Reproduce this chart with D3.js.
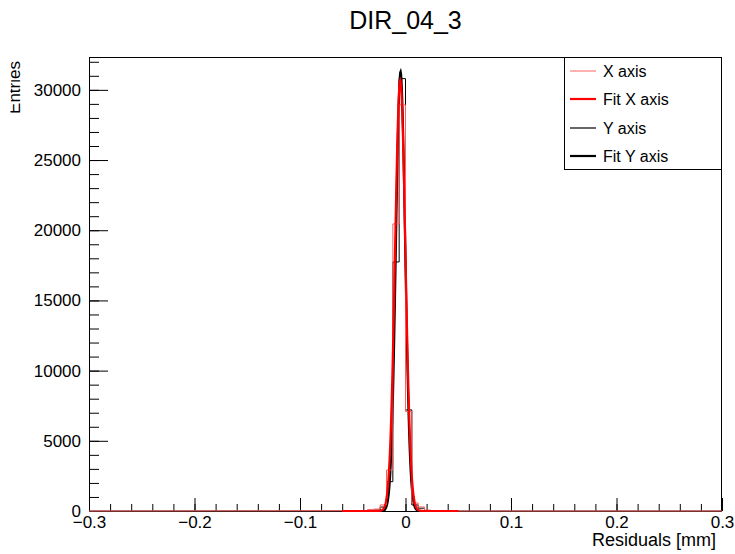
<!DOCTYPE html>
<html>
<head>
<meta charset="utf-8">
<script src="https://cdn.jsdelivr.net/npm/d3@7"></script>
<style>
  html, body { margin: 0; padding: 0; background: #fff; }
  svg { display: block; font-family: "Liberation Sans", Arial, Helvetica, sans-serif; }
</style>
</head>
<body>
<svg id="chart" width="735" height="554"></svg>
<script>
// ---- data ----
const title = "DIR_04_3";
const xTitle = "Residuals [mm]";
const yTitle = "Entries";
const xRange = [-0.3, 0.3];
const binWidth = 0.006;
// low edges of the non-empty bins (all other bins are empty)
const binLowEdges = [-0.042, -0.036, -0.030, -0.024, -0.018, -0.012, -0.006, 0.000, 0.006, 0.012, 0.018, 0.024, 0.030];
const xAxisCounts = [20, 110, 140, 430, 2920, 20450, 28930, 7080, 570, 290, 60, 20, 0];
const yAxisCounts = [10, 30, 70, 280, 2090, 17740, 30800, 7200, 430, 200, 40, 10, 0];
// Gaussian fit parameters [constant, mean, sigma]
const fitXParams = [30700, -0.0050, 0.0049];
const fitYParams = [31300, -0.0047, 0.0044];
const fitRange = [-0.06, 0.05];
const xMajorTicks = [-0.3, -0.2, -0.1, 0, 0.1, 0.2, 0.3];
const xMinorTicks = d3.range(-30, 31, 2).map(v => v / 100);
const yMajorTicks = [0, 5000, 10000, 15000, 20000, 25000, 30000];
const yMinorTicks = d3.range(0, 33000, 1000);
const legendLabels = ["X axis", "Fit X axis", "Y axis", "Fit Y axis"];

// ---- layout ----
const svg = d3.select("#chart");
const mLeft = 89, mRight = 722, mTop = 57, mBottom = 511;
const yMax = d3.max(yAxisCounts.concat(xAxisCounts)) * 1.05;
const x = d3.scaleLinear().domain(xRange).range([mLeft, mRight]);
const y = d3.scaleLinear().domain([0, yMax]).range([mBottom, mTop]);

// title
svg.append("text").attr("x", (mLeft + mRight) / 2).attr("y", 29)
  .attr("text-anchor", "middle").attr("font-size", 25).text(title);

// axes
const fmt = d => d === 0 ? "0" : d3.format(".1f")(d).replace("-", "\u2212");
const gx = svg.append("g").attr("transform", `translate(0,${mBottom})`);
gx.call(d3.axisBottom(x).tickValues(xMinorTicks).tickSize(-7).tickFormat(""));
gx.call(g => g.select(".domain").remove());
const gx2 = svg.append("g").attr("transform", `translate(0,${mBottom})`);
gx2.call(d3.axisBottom(x).tickValues(xMajorTicks).tickSize(-13).tickPadding(5).tickFormat(fmt));
gx2.select(".domain").remove();
gx2.selectAll("text").attr("font-size", 17).attr("fill", "#000").attr("font-family", "Liberation Sans, Arial, sans-serif");

const gy = svg.append("g").attr("transform", `translate(${mLeft},0)`);
gy.call(d3.axisLeft(y).tickValues(yMinorTicks).tickSize(-10).tickFormat(""));
gy.select(".domain").remove();
const gy2 = svg.append("g").attr("transform", `translate(${mLeft},0)`);
gy2.call(d3.axisLeft(y).tickValues(yMajorTicks).tickSize(-19).tickPadding(8).tickFormat(d3.format("d")));
gy2.select(".domain").remove();
gy2.selectAll("text").attr("font-size", 17).attr("fill", "#000").attr("font-family", "Liberation Sans, Arial, sans-serif");
svg.selectAll(".tick line").attr("stroke", "#000");

// frame
svg.append("rect").attr("x", mLeft + 0.5).attr("y", mTop + 0.5)
  .attr("width", mRight - mLeft - 1).attr("height", mBottom - mTop)
  .attr("fill", "none").attr("stroke", "#000").attr("stroke-width", 1);

// axis titles
svg.append("text").attr("x", mRight - 6).attr("y", 546)
  .attr("text-anchor", "end").attr("font-size", 18).text(xTitle);
svg.append("clipPath").attr("id", "yclip").append("rect")
  .attr("x", 10.5).attr("y", 0).attr("width", 40).attr("height", 200);
svg.append("g").attr("clip-path", "url(#yclip)")
  .append("text")
  .attr("transform", "translate(20,61) rotate(-90)")
  .attr("text-anchor", "end").attr("font-size", 17).text(yTitle);

// histogram step paths
function histPoints(counts) {
  const pts = [[xRange[0], 0]];
  binLowEdges.forEach((e, i) => {
    pts.push([e, counts[i]]);
    pts.push([e + binWidth, counts[i]]);
  });
  pts.push([xRange[1], 0]);
  return pts;
}
const line = d3.line().x(d => x(d[0])).y(d => y(d[1]));
function gaussPoints(p) {
  const n = 300;
  return d3.range(n + 1).map(i => {
    const v = fitRange[0] + (fitRange[1] - fitRange[0]) * i / n;
    return [v, p[0] * Math.exp(-0.5 * Math.pow((v - p[1]) / p[2], 2))];
  });
}
const plot = svg.append("g");
plot.append("path").attr("d", line(histPoints(yAxisCounts)))
  .attr("fill", "none").attr("stroke", "#000").attr("stroke-width", 1);
plot.append("path").attr("d", line(gaussPoints(fitYParams)))
  .attr("fill", "none").attr("stroke", "#000").attr("stroke-width", 2.2);
plot.append("path").attr("d", line(histPoints(xAxisCounts)))
  .attr("fill", "none").attr("stroke", "#ff6060").attr("stroke-width", 1);
plot.append("path").attr("d", line(gaussPoints(fitXParams)))
  .attr("fill", "none").attr("stroke", "#ff0000").attr("stroke-width", 2.2);

// legend
const lg = svg.append("g");
lg.append("rect").attr("x", 564.5).attr("y", 57.5).attr("width", 157).attr("height", 112)
  .attr("fill", "#fff").attr("stroke", "#000").attr("stroke-width", 1);
const legStyles = [
  {c: "#ff6060", w: 1}, {c: "#ff0000", w: 2.2}, {c: "#000", w: 1.2}, {c: "#000", w: 2.2}
];
const legY = [71, 99, 128, 156];
legendLabels.forEach((lab, i) => {
  lg.append("line").attr("x1", 570).attr("x2", 596).attr("y1", legY[i]).attr("y2", legY[i])
    .attr("stroke", legStyles[i].c).attr("stroke-width", legStyles[i].w);
  lg.append("text").attr("x", 603).attr("y", legY[i]).attr("dy", "0.35em")
    .attr("font-size", 16).text(lab);
});
</script>
</body>
</html>
